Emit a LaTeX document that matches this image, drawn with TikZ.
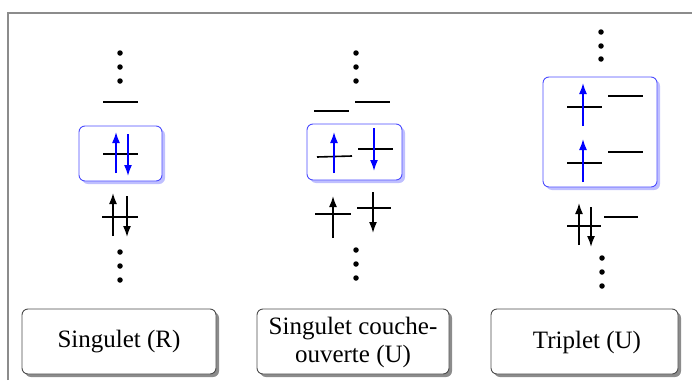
\documentclass[tikz,border=0pt]{standalone}
\usepackage{fontspec}
\setmainfont{Liberation Serif}
\usetikzlibrary{arrows.meta}
\begin{document}
\begin{tikzpicture}[x=1pt,y=-1pt,
  level/.style={line width=1.6pt, black},
  spin/.style={line width=1.6pt, -{Latex[length=11pt,width=8pt]}},
  bspin/.style={spin, blue},
  dotc/.style={circle, fill=black, inner sep=0pt, minimum size=5.5pt},
  bluebox/.style={draw=blue!70, line width=0.9pt, rounded corners=6pt, fill=white},
  blueshadow/.style={fill=blue!25, rounded corners=6pt},
  labelbox/.style={draw=black!70, line width=0.9pt, rounded corners=6pt, fill=white},
  grayshadow/.style={fill=black!45, rounded corners=6pt},
  lbl/.style={font=\fontsize{25}{28}\selectfont, align=center}
]
\useasboundingbox (0,0) rectangle (692,380);
\draw[black!45, line width=1.5pt] (8,380) -- (8,13) -- (692,13);

% ---------- Panel 1 : Singulet (R)
\foreach \y [count=\i] in {53,67,81} \node[dotc] (p1t\i) at (120,\y) {};
\draw[level] (103,102) -- (138,102);
\fill[blueshadow] (82,129) rectangle (165,184);
\draw[bluebox] (79,126) rectangle (162,181);
\draw[level] (103,154) -- (138,154);
\draw[bspin] (116,173) -- (116,132);
\draw[bspin] (128,134) -- (128,176);
\draw[level] (102,217) -- (138,217);
\draw[spin] (113,236) -- (113,193);
\draw[spin] (127,196) -- (127,237);
\foreach \y [count=\i] in {252,266,280} \node[dotc] (p1b\i) at (120,\y) {};

% ---------- Panel 2 : Singulet couche-ouverte (U)
\foreach \y [count=\i] in {53,67,81} \node[dotc] (p2t\i) at (356,\y) {};
\draw[level] (314,111) -- (349,111);
\draw[level] (355,102) -- (390,102);
\fill[blueshadow] (310,127) rectangle (405,183);
\draw[bluebox] (307,124) rectangle (402,180);
\draw[level] (317,157) -- (352,156);
\draw[bspin] (334,173) -- (334,132);
\draw[level] (358,149) -- (393,149);
\draw[bspin] (374,128) -- (374,171);
\draw[level] (315,214) -- (351,214);
\draw[spin] (333,238) -- (333,196);
\draw[level] (357,208) -- (391,208);
\draw[spin] (373,192) -- (373,233);
\foreach \y [count=\i] in {250,264,278} \node[dotc] (p2b\i) at (356,\y) {};

% ---------- Panel 3 : Triplet (U)
\foreach \y [count=\i] in {32,46,59} \node[dotc] (p3t\i) at (601,\y) {};
\fill[blueshadow] (546,80) rectangle (660,190);
\draw[bluebox] (543,77) rectangle (657,187);
\draw[level] (567,107) -- (602,107);
\draw[bspin] (583,126) -- (583,83);
\draw[level] (608,96) -- (643,96);
\draw[level] (567,163) -- (602,163);
\draw[bspin] (583,182) -- (583,139);
\draw[level] (608,152) -- (643,152);
\draw[level] (567,226) -- (601,226);
\draw[spin] (579,245) -- (579,203);
\draw[spin] (591,207) -- (591,247);
\draw[level] (604,217) -- (638,217);
\foreach \y [count=\i] in {258,272,286} \node[dotc] (p3b\i) at (602,\y) {};

% ---------- Labels
\fill[grayshadow] (25,312) rectangle (219,377);
\draw[labelbox] (22,309) rectangle (216,374);
\node[lbl] (l1) at (119,342) {Singulet (R)};

\fill[grayshadow] (260,312) rectangle (452,377);
\draw[labelbox] (257,309) rectangle (449,374);
\node[lbl] (l2) at (353,342) {Singulet couche-\\ouverte (U)};

\fill[grayshadow] (494,312) rectangle (681,377);
\draw[labelbox] (491,309) rectangle (678,374);
\node[lbl] (l3) at (587,342) {Triplet (U)};
\end{tikzpicture}
\end{document}
